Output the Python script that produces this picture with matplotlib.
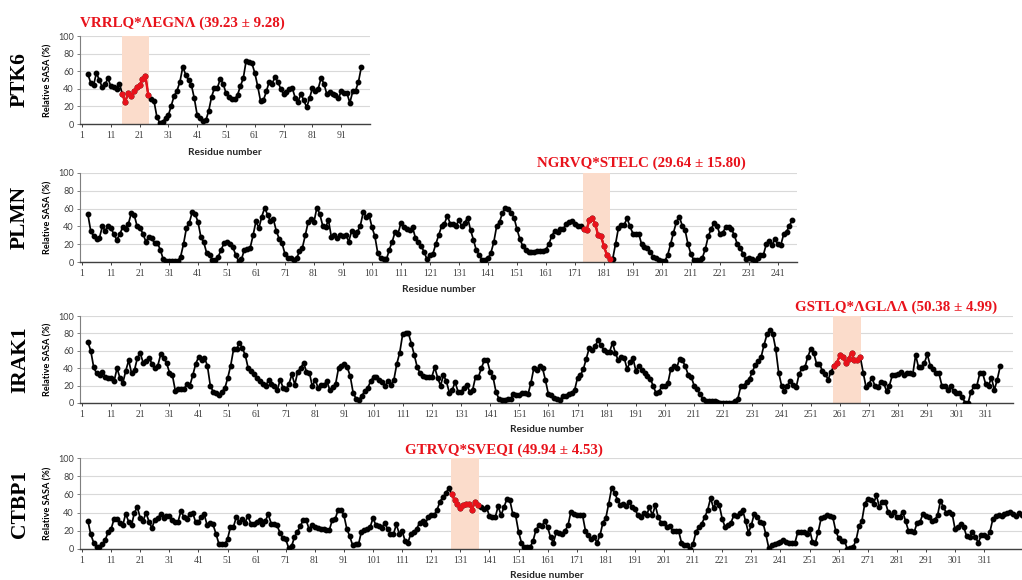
import numpy as np
import matplotlib.pyplot as plt

# relative SASA (%) per residue
ptk6_start = 3
ptk6_sasa = [
    57, 47, 44, 58, 50, 42, 45, 52, 43, 42, 40, 46,
    34, 25, 35, 32, 37, 42, 44, 51, 55, 33,
    28, 26, 8, 1, 2, 7, 10, 21, 32, 38,
    48, 65, 56, 50, 44, 29, 10, 7, 3, 4,
    15, 31, 41, 41, 51, 46, 35, 31, 28, 28,
    33, 43, 52, 72, 71, 69, 58, 43, 26, 27,
    37, 48, 46, 53, 48, 40, 34, 36, 40, 41,
    30, 25, 34, 27, 19, 29, 41, 38, 40, 52,
    46, 34, 36, 34, 33, 29, 37, 35, 35, 24,
    37, 38, 48, 65,
]
ptk6_site = (15, 24)

plmn_start = 3
plmn_sasa = [
    54, 35, 29, 26, 27, 40, 35, 41, 38, 31,
    25, 31, 39, 37, 43, 55, 53, 40, 38, 32,
    23, 28, 27, 21, 21, 14, 3, 1, 1, 1,
    1, 1, 6, 20, 38, 44, 56, 54, 45, 28,
    22, 10, 8, 2, 2, 6, 14, 21, 22, 20,
    17, 8, 1, 3, 14, 15, 16, 30, 46, 38,
    51, 61, 53, 46, 48, 35, 26, 21, 9, 5,
    4, 2, 4, 12, 16, 30, 45, 48, 45, 61,
    54, 41, 39, 47, 28, 30, 27, 30, 29, 30,
    23, 35, 30, 34, 41, 56, 51, 53, 39, 29,
    10, 4, 3, 3, 14, 23, 34, 32, 44, 39,
    37, 36, 39, 27, 22, 18, 11, 3, 8, 9,
    20, 30, 40, 43, 52, 43, 43, 41, 47, 40,
    44, 50, 36, 25, 13, 8, 2, 2, 4, 10,
    22, 40, 45, 55, 61, 59, 55, 50, 37, 26,
    18, 13, 11, 11, 11, 12, 12, 12, 14, 20,
    29, 35, 34, 37, 37, 43, 45, 46, 43, 41,
    40, 37, 36, 47, 49, 43, 30, 29, 18, 8,
    3, 3, 20, 38, 42, 42, 49, 40, 32, 32,
    32, 20, 17, 16, 11, 6, 4, 2, 1, 1,
    8, 20, 33, 45, 51, 41, 36, 20, 9, 2,
    2, 2, 5, 15, 29, 37, 44, 41, 31, 33,
    39, 39, 37, 30, 20, 16, 9, 3, 4, 3,
    1, 5, 8, 8, 20, 24, 19, 26, 20, 19,
    31, 34, 41, 47,
]
plmn_site = (174, 183)

irak1_start = 3
irak1_sasa = [
    70, 60, 41, 34, 32, 36, 30, 29, 29, 25,
    40, 29, 23, 37, 49, 34, 38, 52, 57, 46,
    48, 52, 45, 40, 43, 56, 52, 46, 35, 32,
    14, 16, 16, 16, 22, 20, 32, 45, 53, 50,
    52, 43, 20, 13, 11, 9, 13, 17, 29, 43,
    62, 62, 69, 63, 55, 40, 37, 33, 29, 25,
    22, 19, 27, 22, 19, 15, 27, 17, 16, 22,
    33, 21, 36, 40, 46, 36, 35, 19, 27, 17,
    21, 21, 25, 15, 18, 22, 40, 43, 45, 41,
    31, 12, 5, 4, 8, 14, 17, 25, 30, 30,
    27, 24, 20, 25, 21, 27, 45, 58, 79, 80,
    80, 68, 55, 41, 34, 31, 30, 30, 30, 41,
    29, 20, 32, 25, 12, 15, 24, 13, 13, 17,
    21, 13, 15, 30, 30, 40, 49, 49, 36, 30,
    13, 5, 4, 4, 5, 5, 10, 9, 9, 12,
    12, 10, 23, 40, 38, 43, 40, 26, 10, 9,
    6, 5, 4, 8, 8, 10, 12, 15, 29, 32,
    39, 51, 63, 61, 65, 72, 67, 61, 59, 59,
    69, 57, 49, 53, 52, 39, 47, 52, 37, 43,
    38, 35, 31, 28, 19, 11, 13, 20, 19, 23,
    39, 42, 40, 51, 49, 42, 32, 30, 20, 16,
    10, 5, 2, 2, 2, 2, 1, 0, 0, 0,
    0, 0, 2, 5, 19, 20, 24, 28, 36, 44,
    48, 53, 67, 79, 84, 79, 62, 35, 20, 14,
    20, 25, 21, 18, 33, 40, 41, 53, 62, 58,
    45, 45, 37, 33, 27, 36, 43, 46, 55, 53,
    46, 51, 58, 49, 50, 53, 35, 18, 22, 29,
    20, 18, 24, 23, 14, 20, 32, 32, 33, 36,
    32, 35, 35, 33, 55, 41, 41, 46, 56, 43,
    39, 34, 34, 20, 20, 15, 20, 14, 12, 12,
    7, 0, 0, 13, 19, 20, 34, 34, 22, 20,
    29, 15, 27, 42,
]
irak1_site = (259, 268)

ctbp1_start = 3
ctbp1_sasa = [
    31, 16, 7, 2, 2, 5, 10, 19, 22, 33,
    33, 29, 26, 39, 30, 26, 40, 46, 34, 31,
    40, 30, 23, 32, 34, 38, 34, 36, 36, 32,
    30, 30, 42, 35, 33, 39, 40, 30, 30, 35,
    38, 26, 29, 27, 17, 6, 6, 5, 11, 24,
    24, 35, 30, 33, 29, 36, 28, 28, 30, 32,
    27, 31, 38, 28, 27, 26, 18, 12, 11, 1,
    3, 13, 19, 25, 32, 32, 22, 26, 24, 23,
    22, 22, 21, 21, 32, 33, 43, 43, 37, 22,
    14, 4, 5, 5, 19, 21, 22, 24, 34, 26,
    25, 23, 29, 22, 17, 16, 27, 17, 20, 9,
    7, 17, 19, 22, 29, 31, 28, 35, 37, 37,
    43, 52, 57, 61, 67, 60, 54, 50, 45, 48,
    49, 50, 43, 52, 48, 46, 44, 46, 36, 35,
    35, 47, 37, 46, 55, 54, 39, 37, 19, 7,
    2, 2, 2, 9, 21, 26, 25, 31, 24, 13,
    7, 19, 18, 17, 20, 26, 41, 39, 37, 37,
    37, 20, 15, 11, 13, 7, 15, 29, 34, 50,
    67, 62, 54, 48, 50, 47, 52, 46, 44, 37,
    35, 40, 37, 46, 37, 48, 35, 29, 29, 24,
    25, 20, 20, 20, 7, 4, 4, 0, 6, 19,
    24, 28, 35, 43, 56, 45, 52, 48, 33, 24,
    26, 29, 37, 36, 40, 43, 31, 18, 26, 39,
    35, 30, 29, 16, 1, 4, 6, 7, 8, 10,
    8, 7, 7, 7, 19, 19, 19, 17, 22, 8,
    7, 19, 34, 35, 37, 36, 35, 20, 12, 9,
    9, 0, 1, 2, 10, 25, 31, 50, 55, 54,
    50, 59, 46, 52, 52, 41, 37, 41, 35, 35,
    41, 31, 20, 20, 19, 29, 30, 39, 36, 35,
    31, 32, 37, 53, 46, 40, 41, 39, 22, 24,
    28, 24, 14, 13, 19, 13, 7, 15, 15, 13,
    19, 33, 36, 37, 36, 39, 40, 41, 39, 36,
    40, 37, 25,
]
ctbp1_site = (128, 137)

proteins = ["PTK6", "PLMN", "IRAK1", "CTBP1"]
site_labels = [
    "VRRLQ*ΛEGNΛ (39.23 ± 9.28)",
    "NGRVQ*STELC (29.64 ± 15.80)",
    "GSTLQ*ΛGLΛΛ (50.38 ± 4.99)",
    "GTRVQ*SVEQI (49.94 ± 4.53)",
]

W, H = 1022, 580
fig = plt.figure(figsize=(W / 100, H / 100), dpi=100)


def px_box(left, top, right, bottom):
    return [left / W, 1 - bottom / H, (right - left) / W, (bottom - top) / H]


# (axes box in px, x max, last tick, title pos, x-label y)
layout = [
    ((80, 36, 370, 124), 101.0, 91, (80, 23), 152),
    ((80, 173, 797, 262), 247.6, 241, (537, 163), 290),
    ((80, 316, 1013, 403), 320.4, 311, (795, 307), 430),
    ((80, 458, 1040, 549), 330.2, 311, (405, 450), 576),
]
starts = [ptk6_start, plmn_start, irak1_start, ctbp1_start]
series = [ptk6_sasa, plmn_sasa, irak1_sasa, ctbp1_sasa]
sites = [ptk6_site, plmn_site, irak1_site, ctbp1_site]

red = '#e8121b'
sans = 'Lato'
serif = 'Liberation Serif'

for name, start, vals, site, label, (bx, xmax, last_tick, tpos, xl_y) in zip(
        proteins, starts, series, sites, site_labels, layout):
    ax = fig.add_axes(px_box(*bx))
    x = np.arange(start, start + len(vals))
    y = np.array(vals)
    ax.axvspan(site[0] - 0.25, site[1] + 0.25, color='#fbdccb', lw=0, zorder=1)
    ax.plot(x, y, '-o', color='black', lw=1.25, ms=3.2, zorder=3)
    m = (x >= site[0]) & (x <= site[1])
    ax.plot(x[m], y[m], '-o', color=red, lw=1.7, ms=3.2, zorder=4)

    ax.set_xlim(0.3, xmax)
    ax.set_ylim(0, 100)
    ax.set_yticks(range(0, 101, 20))
    ax.set_xticks(np.arange(1, last_tick + 1, 10))
    ax.grid(axis='y', color='#d9d9d9', lw=0.8, zorder=0)
    ax.set_axisbelow(True)
    for s in ['top', 'right']:
        ax.spines[s].set_visible(False)
    ax.spines['left'].set_color('#7f7f7f')
    ax.spines['left'].set_linewidth(0.8)
    ax.spines['bottom'].set_color('#404040')
    ax.spines['bottom'].set_linewidth(1.0)
    ax.tick_params(axis='y', length=2.5, width=0.7, color='#7f7f7f', pad=2,
                   labelsize=6.6, labelcolor='#404040')
    ax.tick_params(axis='x', length=2.5, width=0.7, color='#404040', pad=2.5,
                   labelsize=7, labelcolor='#404040')
    for t in ax.get_yticklabels():
        t.set_family(sans)
    for t in ax.get_xticklabels():
        t.set_family(serif)

    left, top, right, bottom = bx
    cy = (top + bottom) / 2
    fig.text(48 / W, 1 - cy / H, 'Relative SASA (%)', rotation=90,
             ha='center', va='center', fontsize=6.6, fontweight='bold', family=sans)
    xc = (left + min(right, 1013)) / 2
    fig.text(xc / W, 1 - xl_y / H, 'Residue number', ha='center', va='center',
             fontsize=7.3, fontweight='bold', family=sans, color='#262626')
    fig.text(20 / W, 1 - cy / H, name, rotation=90, ha='center', va='center',
             fontsize=15.5, fontweight='bold', family=serif)
    fig.text(tpos[0] / W, 1 - tpos[1] / H, label, ha='left', va='center',
             fontsize=10.8, fontweight='bold', family=serif, color=red)

fig.savefig('out.png', dpi=100)
